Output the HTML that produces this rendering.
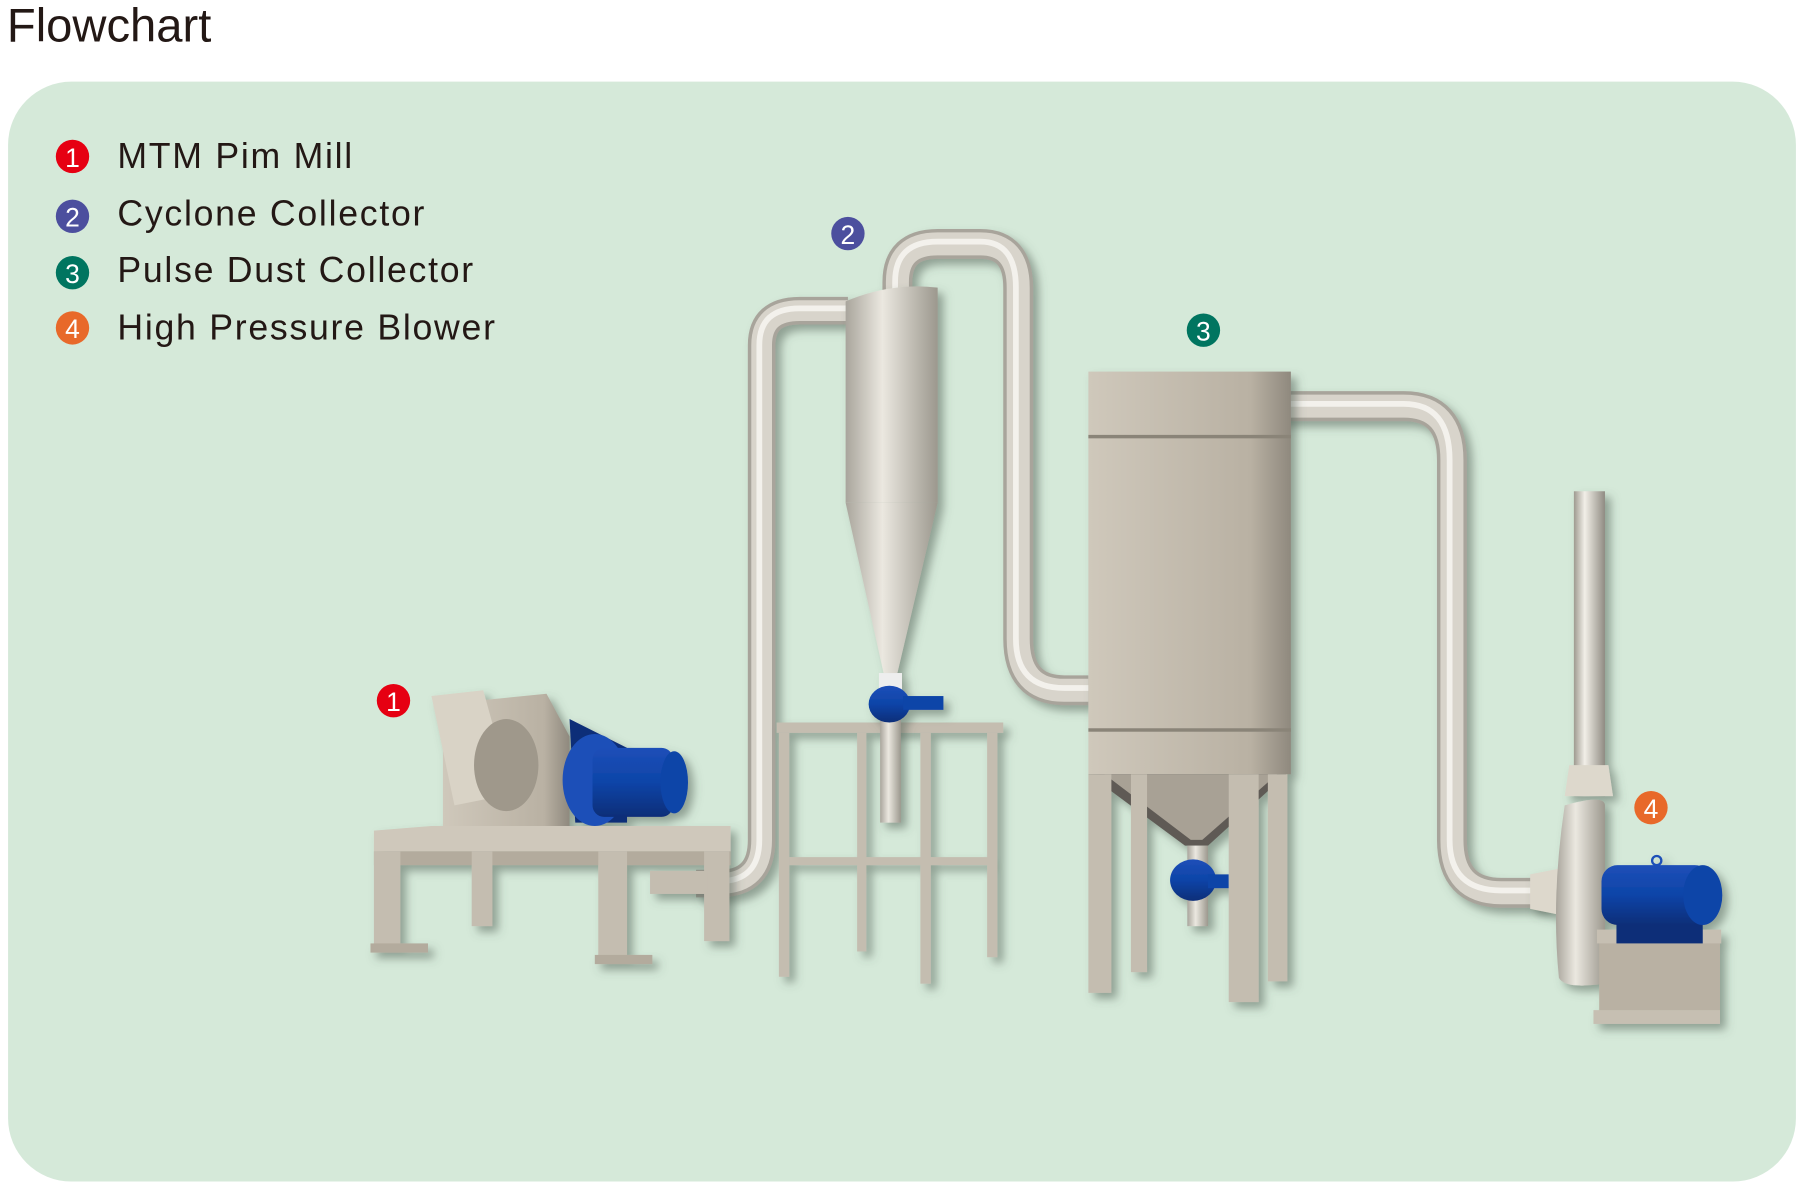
<!DOCTYPE html>
<html><head><meta charset="utf-8"><style>
html,body{margin:0;padding:0;background:#fff;}
svg{display:block;}
text{font-family:"Liberation Sans",Arial,sans-serif;}
</style></head><body>
<svg width="1804" height="1188" viewBox="0 0 1568 1032.6" xmlns="http://www.w3.org/2000/svg">
<defs>
<linearGradient id="pv" x1="0" x2="1" y1="0" y2="0"><stop offset="0" stop-color="#9e9a90"/><stop offset="0.35" stop-color="#f2efe8"/><stop offset="1" stop-color="#8f8b82"/></linearGradient>
<linearGradient id="cyl" x1="0" x2="1"><stop offset="0" stop-color="#a9a59c"/><stop offset="0.4" stop-color="#ebe8e0"/><stop offset="1" stop-color="#9c988e"/></linearGradient>
<linearGradient id="box" x1="0" x2="1"><stop offset="0" stop-color="#cfc8bb"/><stop offset="0.8" stop-color="#b9b1a3"/><stop offset="1" stop-color="#8f897e"/></linearGradient>
<linearGradient id="blue" x1="0" x2="0" y1="0" y2="1"><stop offset="0" stop-color="#1e4fb8"/><stop offset="0.5" stop-color="#0d44a8"/><stop offset="1" stop-color="#0a2e78"/></linearGradient>
<filter id="sh" x="-20%" y="-20%" width="140%" height="140%"><feDropShadow dx="5" dy="5" stdDeviation="4" flood-color="#4a5a4e" flood-opacity="0.5"/></filter>
</defs>
<text x="6" y="36" font-size="41" fill="#231815">Flowchart</text>
<rect x="7" y="71" width="1554" height="956" rx="55" fill="#d5e9d9"/>
<!-- legend -->
<circle cx="63" cy="136" r="14.5" fill="#e60012"/><text x="63" y="145" font-size="23" fill="#fff" text-anchor="middle">1</text>
<circle cx="63" cy="188" r="14.5" fill="#4c4f9e"/><text x="63" y="197" font-size="23" fill="#fff" text-anchor="middle">2</text>
<circle cx="63" cy="237" r="14.5" fill="#007560"/><text x="63" y="246" font-size="23" fill="#fff" text-anchor="middle">3</text>
<circle cx="63" cy="285" r="14.5" fill="#e8692a"/><text x="63" y="294" font-size="23" fill="#fff" text-anchor="middle">4</text>
<g font-size="31" fill="#231815" letter-spacing="1.5">
<text x="102" y="146">MTM Pim Mill</text>
<text x="102" y="196">Cyclone Collector</text>
<text x="102" y="245">Pulse Dust Collector</text>
<text x="102" y="295">High Pressure Blower</text>
</g>
<!-- pipes -->
<g fill="none" stroke-linecap="butt" filter="url(#sh)">
<path d="M605,768 L625,768 Q662,768 662,730 L662,300 Q662,270 695,270 L737,270" stroke="#a8a49b" stroke-width="24"/>
<path d="M605,768 L625,768 Q662,768 662,730 L662,300 Q662,270 695,270 L737,270" stroke="#d8d4cb" stroke-width="18"/>
<path d="M605,766 L625,766 Q660,766 660,730 L660,300 Q660,268 695,268 L737,268" stroke="#f3f1ec" stroke-width="5"/>
<path d="M780,258 L780,245 Q780,212 815,212 L852,212 Q885,212 885,250 L885,555 Q885,600 925,600 L946,600" stroke="#a8a49b" stroke-width="26"/>
<path d="M780,258 L780,245 Q780,212 815,212 L852,212 Q885,212 885,250 L885,555 Q885,600 925,600 L946,600" stroke="#d8d4cb" stroke-width="20"/>
<path d="M778,258 L778,245 Q778,210 815,210 L852,210 Q883,210 883,250 L883,555 Q883,598 925,598 L946,598" stroke="#f3f1ec" stroke-width="5"/>
<path d="M1110,353 L1220,353 Q1262,353 1262,400 L1262,730 Q1262,776 1305,776 L1345,776" stroke="#a8a49b" stroke-width="26"/>
<path d="M1110,353 L1220,353 Q1262,353 1262,400 L1262,730 Q1262,776 1305,776 L1345,776" stroke="#d8d4cb" stroke-width="20"/>
<path d="M1110,351 L1220,351 Q1260,351 1260,400 L1260,730 Q1260,774 1305,774 L1345,774" stroke="#f3f1ec" stroke-width="5"/>
</g>
<!-- cyclone stand -->
<g fill="#c4bdb0" filter="url(#sh)">
<rect x="675" y="628" width="197" height="9"/>
<rect x="677" y="637" width="9" height="212"/><rect x="745" y="637" width="8" height="190"/>
<rect x="800" y="637" width="9" height="218"/><rect x="858" y="637" width="9" height="195"/>
<rect x="686" y="745" width="180" height="7"/>
</g>
<!-- cyclone -->
<g filter="url(#sh)">
<path d="M735,262 Q775,245 815,250 L815,437 L735,437 Z" fill="url(#cyl)"/>
<path d="M735,437 L815,437 L780,585 L768,585 Z" fill="url(#cyl)"/>
<rect x="764" y="585" width="20" height="15" fill="#eee"/>
<rect x="765" y="610" width="18" height="105" fill="url(#cyl)"/>
<ellipse cx="773" cy="612" rx="18" ry="16" fill="url(#blue)"/>
<rect x="785" y="605" width="35" height="12" fill="#0d44a8"/>
</g>
<!-- pulse dust collector -->
<g filter="url(#sh)">
<rect x="946" y="323" width="176" height="350" fill="url(#box)"/>
<rect x="946" y="378" width="176" height="3" fill="#8a8478"/>
<rect x="946" y="633" width="176" height="3" fill="#8a8478"/>
<path d="M946,673 L1118,673 L1050,735 L1030,735 Z" fill="#5e5a54"/>
<path d="M960,673 L1110,673 L1045,730 L1035,730 Z" fill="#a8a195"/>
<rect x="1032" y="735" width="18" height="70" fill="url(#cyl)"/>
<ellipse cx="1037" cy="765" rx="20" ry="18" fill="url(#blue)"/>
<rect x="1050" y="760" width="18" height="12" fill="#0d44a8"/>
<g fill="#c4bdb0">
<rect x="946" y="673" width="20" height="190"/><rect x="983" y="673" width="14" height="172"/>
<rect x="1068" y="673" width="26" height="198"/><rect x="1102" y="673" width="17" height="180"/>
</g>
</g>
<!-- blower -->
<g filter="url(#sh)">
<rect x="1368" y="427" width="27" height="265" fill="url(#pv)"/>
<path d="M1364,665 L1398,665 L1402,692 L1360,692 Z" fill="#ddd8cc"/>
<path d="M1330,760 L1355,755 L1355,795 L1330,790 Z" fill="#ddd8cc"/>
<path d="M1360,700 Q1395,690 1395,700 L1395,855 Q1360,860 1355,850 Q1348,780 1360,700 Z" fill="url(#cyl)"/>
<rect x="1390" y="810" width="105" height="70" fill="#b9b1a3"/>
<rect x="1385" y="878" width="110" height="12" fill="#c6bfb2"/>
<rect x="1388" y="808" width="108" height="12" fill="#c6bfb2"/>
<rect x="1405" y="790" width="75" height="30" fill="#0a2e78"/>
<rect x="1392" y="752" width="95" height="52" rx="14" fill="url(#blue)"/>
<ellipse cx="1480" cy="778" rx="17" ry="26" fill="#0d44a8"/>
<circle cx="1440" cy="748" r="4" fill="none" stroke="#1e4fb8" stroke-width="2"/>
</g>
<!-- mill -->
<g filter="url(#sh)">
<path d="M325,722 L375,718 L635,718 L635,740 L325,740 Z" fill="#cfc8bb"/>
<rect x="325" y="740" width="310" height="12" fill="#b3ab9d"/>
<g fill="#c4bdb0">
<rect x="325" y="740" width="23" height="85"/><rect x="410" y="740" width="18" height="65"/>
<rect x="520" y="740" width="25" height="97"/><rect x="612" y="740" width="22" height="78"/>
<rect x="565" y="757" width="50" height="20"/>
</g>
<rect x="322" y="820" width="50" height="8" fill="#b3ab9d"/>
<rect x="517" y="830" width="50" height="8" fill="#b3ab9d"/>
<path d="M385,612 L475,603 L495,640 L495,718 L385,718 Z" fill="url(#box)"/>
<path d="M375,605 L420,600 L445,690 L395,700 Z" fill="#d9d3c6"/>
<ellipse cx="440" cy="665" rx="28" ry="40" fill="#9f988b"/>
<path d="M495,625 L545,650 L545,715 L500,715 Z" fill="#0a2e78"/>
<ellipse cx="517" cy="678" rx="28" ry="40" fill="#1e4fb8"/>
<rect x="515" y="650" width="70" height="60" rx="10" fill="url(#blue)"/>
<ellipse cx="586" cy="680" rx="12" ry="27" fill="#0d44a8"/>
</g>
<!-- badges -->
<circle cx="342" cy="609" r="14.5" fill="#e60012"/><text x="342" y="618" font-size="23" fill="#fff" text-anchor="middle">1</text>
<circle cx="737" cy="203" r="14.5" fill="#4c4f9e"/><text x="737" y="212" font-size="23" fill="#fff" text-anchor="middle">2</text>
<circle cx="1046" cy="287" r="14.5" fill="#007560"/><text x="1046" y="296" font-size="23" fill="#fff" text-anchor="middle">3</text>
<circle cx="1435" cy="702" r="14.5" fill="#e8692a"/><text x="1435" y="711" font-size="23" fill="#fff" text-anchor="middle">4</text>
</svg>
</body></html>
